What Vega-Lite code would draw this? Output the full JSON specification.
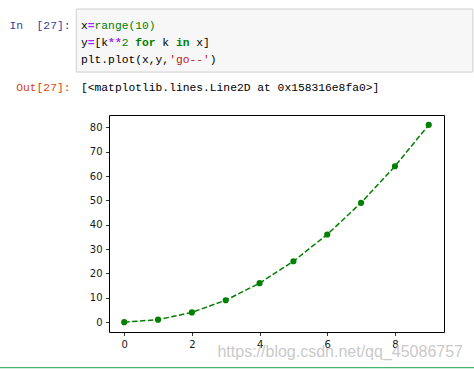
{
  "$schema": "https://vega.github.io/schema/vega-lite/v6.json",
  "autosize": "none",
  "width": 335,
  "height": 217,
  "padding": {"left": 109, "top": 115, "right": 30, "bottom": 37},
  "background": "#ffffff",
  "config": {
    "view": {"stroke": "#000000", "strokeWidth": 1},
    "axis": {
      "domain": false,
      "grid": false,
      "tickColor": "#000000",
      "tickWidth": 0.8,
      "tickSize": 3.5,
      "labelPadding": 3.5,
      "labelFont": "DejaVu Sans",
      "labelFontSize": 10,
      "labelColor": "#1a1a1a",
      "title": null
    }
  },
  "datasets": {
    "points": [
      {"x": 0, "y": 0}, {"x": 1, "y": 1}, {"x": 2, "y": 4}, {"x": 3, "y": 9},
      {"x": 4, "y": 16}, {"x": 5, "y": 25}, {"x": 6, "y": 36}, {"x": 7, "y": 49},
      {"x": 8, "y": 64}, {"x": 9, "y": 81}
    ],
    "code": [
      {"line": 0, "col": 0, "text": "x", "kind": "plain"},
      {"line": 0, "col": 1, "text": "=", "kind": "operator"},
      {"line": 0, "col": 2, "text": "range(10)", "kind": "builtin"},
      {"line": 1, "col": 0, "text": "y", "kind": "plain"},
      {"line": 1, "col": 1, "text": "=", "kind": "operator"},
      {"line": 1, "col": 2, "text": "[k", "kind": "plain"},
      {"line": 1, "col": 4, "text": "**", "kind": "operator"},
      {"line": 1, "col": 6, "text": "2", "kind": "number"},
      {"line": 1, "col": 8, "text": "for", "kind": "keyword"},
      {"line": 1, "col": 12, "text": "k", "kind": "plain"},
      {"line": 1, "col": 14, "text": "in", "kind": "keyword"},
      {"line": 1, "col": 17, "text": "x]", "kind": "plain"},
      {"line": 2, "col": 0, "text": "plt.plot(x,y,", "kind": "plain"},
      {"line": 2, "col": 13, "text": "'go--'", "kind": "string"},
      {"line": 2, "col": 19, "text": ")", "kind": "plain"}
    ]
  },
  "resolve": {"scale": {"x": "independent", "y": "independent", "color": "independent"}},
  "layer": [
    {
      "data": {"values": [{}]},
      "mark": {"type": "rect", "fill": "#f7f7f7", "stroke": "#cfcfcf", "strokeWidth": 1},
      "encoding": {
        "x": {"datum": -0.7, "type": "quantitative", "scale": {"domain": [0, 50], "range": [-28, 311]}, "axis": null},
        "x2": {"datum": 57.8},
        "y": {"datum": -1.0, "type": "quantitative", "scale": {"domain": [0, 10], "range": [-89, 81]}, "axis": null},
        "y2": {"datum": 2.71}
      }
    },
    {
      "data": {"name": "code"},
      "transform": [{"filter": "datum.kind !== 'keyword' && datum.kind !== 'operator'"}],
      "mark": {"type": "text", "align": "left", "baseline": "middle", "font": "Liberation Mono", "fontSize": 11.3},
      "encoding": {
        "x": {"field": "col", "type": "quantitative", "scale": {"domain": [0, 50], "range": [-28, 311]}, "axis": null},
        "y": {"field": "line", "type": "quantitative", "scale": {"domain": [0, 10], "range": [-89, 81]}, "axis": null},
        "text": {"field": "text"},
        "color": {"field": "kind", "type": "nominal", "legend": null,
          "scale": {"domain": ["plain", "builtin", "number", "string"], "range": ["#000000", "#008000", "#008000", "#ba2121"]}}
      }
    },
    {
      "data": {"name": "code"},
      "transform": [{"filter": "datum.kind === 'keyword' || datum.kind === 'operator'"}],
      "mark": {"type": "text", "align": "left", "baseline": "middle", "font": "Liberation Mono", "fontSize": 11.3, "fontWeight": "bold"},
      "encoding": {
        "x": {"field": "col", "type": "quantitative", "scale": {"domain": [0, 50], "range": [-28, 311]}, "axis": null},
        "y": {"field": "line", "type": "quantitative", "scale": {"domain": [0, 10], "range": [-89, 81]}, "axis": null},
        "text": {"field": "text"},
        "color": {"field": "kind", "type": "nominal", "legend": null,
          "scale": {"domain": ["keyword", "operator"], "range": ["#008000", "#aa22ff"]}}
      }
    },
    {
      "data": {"values": [{"line": 0, "text": "In\u00a0\u00a0[27]:"}]},
      "mark": {"type": "text", "align": "right", "baseline": "middle", "font": "Liberation Mono", "fontSize": 11.3, "color": "#303f9f"},
      "encoding": {
        "x": {"datum": -1.55, "type": "quantitative", "scale": {"domain": [0, 50], "range": [-28, 311]}, "axis": null},
        "y": {"field": "line", "type": "quantitative", "scale": {"domain": [0, 10], "range": [-89, 81]}, "axis": null},
        "text": {"field": "text"}
      }
    },
    {
      "data": {"values": [{"line": 3, "text": "Out[27]:"}]},
      "mark": {"type": "text", "align": "right", "baseline": "middle", "font": "Liberation Mono", "fontSize": 11.3, "color": "#d84315", "dy": 11},
      "encoding": {
        "x": {"datum": -1.55, "type": "quantitative", "scale": {"domain": [0, 50], "range": [-28, 311]}, "axis": null},
        "y": {"field": "line", "type": "quantitative", "scale": {"domain": [0, 10], "range": [-89, 81]}, "axis": null},
        "text": {"field": "text"}
      }
    },
    {
      "data": {"values": [{"line": 3, "col": 0, "text": "[<matplotlib.lines.Line2D at 0x158316e8fa0>]"}]},
      "mark": {"type": "text", "align": "left", "baseline": "middle", "font": "Liberation Mono", "fontSize": 11.3, "color": "#000000", "dy": 11},
      "encoding": {
        "x": {"field": "col", "type": "quantitative", "scale": {"domain": [0, 50], "range": [-28, 311]}, "axis": null},
        "y": {"field": "line", "type": "quantitative", "scale": {"domain": [0, 10], "range": [-89, 81]}, "axis": null},
        "text": {"field": "text"}
      }
    },
    {
      "data": {"name": "points"},
      "mark": {"type": "line", "color": "#008000", "strokeWidth": 1.5, "strokeDash": [5.5, 2.4]},
      "encoding": {
        "x": {"field": "x", "type": "quantitative", "scale": {"domain": [-0.45, 9.45], "nice": false, "zero": false},
          "axis": {"values": [0, 2, 4, 6, 8], "orient": "bottom"}},
        "y": {"field": "y", "type": "quantitative", "scale": {"domain": [-4.05, 85.05], "nice": false, "zero": false},
          "axis": {"values": [0, 10, 20, 30, 40, 50, 60, 70, 80], "orient": "left"}}
      }
    },
    {
      "data": {"name": "points"},
      "mark": {"type": "point", "filled": true, "shape": "circle", "size": 38, "color": "#008000", "opacity": 1},
      "encoding": {
        "x": {"field": "x", "type": "quantitative", "scale": {"domain": [-0.45, 9.45], "nice": false, "zero": false}, "axis": null},
        "y": {"field": "y", "type": "quantitative", "scale": {"domain": [-4.05, 85.05], "nice": false, "zero": false}, "axis": null}
      }
    },
    {
      "data": {"values": [{"text": "https://blog.csdn.net/qq_45086757"}]},
      "mark": {"type": "text", "align": "right", "baseline": "middle", "font": "Liberation Sans", "fontSize": 16, "color": "#b8b8b8", "opacity": 0.75},
      "encoding": {
        "x": {"datum": 56.34, "type": "quantitative", "scale": {"domain": [0, 50], "range": [-28, 311]}, "axis": null},
        "y": {"datum": 19.2, "type": "quantitative", "scale": {"domain": [0, 10], "range": [-89, 81]}, "axis": null},
        "text": {"field": "text"}
      }
    },
    {
      "data": {"values": [{}]},
      "mark": {"type": "rule", "color": "#4ab56f", "strokeWidth": 1.2},
      "encoding": {
        "x": {"datum": -12.5, "type": "quantitative", "scale": {"domain": [0, 50], "range": [-28, 311]}, "axis": null},
        "x2": {"datum": 58.5},
        "y": {"datum": 20.1, "type": "quantitative", "scale": {"domain": [0, 10], "range": [-89, 81]}, "axis": null}
      }
    }
  ]
}
